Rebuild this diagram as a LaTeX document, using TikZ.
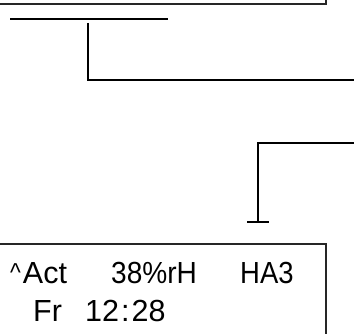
\documentclass[tikz,border=0pt]{standalone}
\usepackage{fontspec}
\setmainfont{Liberation Sans}
\begin{document}
\begin{tikzpicture}[x=1pt,y=1pt,
  boxline/.style={draw=black!85, line width=1.4pt},
  wire/.style={draw=black, line width=1.6pt},
  lcd/.style={anchor=base west, inner sep=0pt, font=\fontsize{30.5}{34}\selectfont}]
\useasboundingbox (0,0) rectangle (354,334);
% top box (partially visible)
\coordinate (tbl) at (-5,330);
\coordinate (tbr) at (326,330);
\coordinate (tbt) at (326,340);
\draw[boxline] (tbl) -- (tbr) -- (tbt);
% bar under top box
\coordinate (barL) at (10,315);
\coordinate (barR) at (168,315);
\draw[draw=black, line width=1.9pt] (barL) -- (barR);
% first connector
\coordinate (c1a) at (88,311);
\coordinate (c1b) at (88,254);
\coordinate (c1c) at (356,254);
\draw[wire] (c1a) -- (c1b) -- (c1c);
% second connector with T end
\coordinate (c2a) at (356,191);
\coordinate (c2b) at (258,191);
\coordinate (c2c) at (258,112);
\coordinate (tL) at (247,112);
\coordinate (tR) at (269,112);
\draw[wire] (c2a) -- (c2b) -- (c2c);
\draw[wire] (tL) -- (tR);
% bottom display box
\coordinate (bbl) at (-5,90);
\coordinate (bbr) at (326,90);
\coordinate (bbb) at (326,-5);
\draw[boxline] (bbl) -- (bbr) -- (bbb);
% display text
\node[lcd] (t1) at (10,50) {\raisebox{2pt}{\scalebox{0.75}[0.85]{\textasciicircum}}\kern2pt Act};
\node[lcd] (t2) at (111,50) {\scalebox{0.92}[1]{38\%rH}};
\node[lcd] (t3) at (240,50) {\scalebox{0.9}[1]{HA3}};
\node[lcd] (t4) at (33,12) {Fr};
\node[lcd] (t5) at (85,12) {12\kern2pt:\kern2pt28};
\end{tikzpicture}
\end{document}
